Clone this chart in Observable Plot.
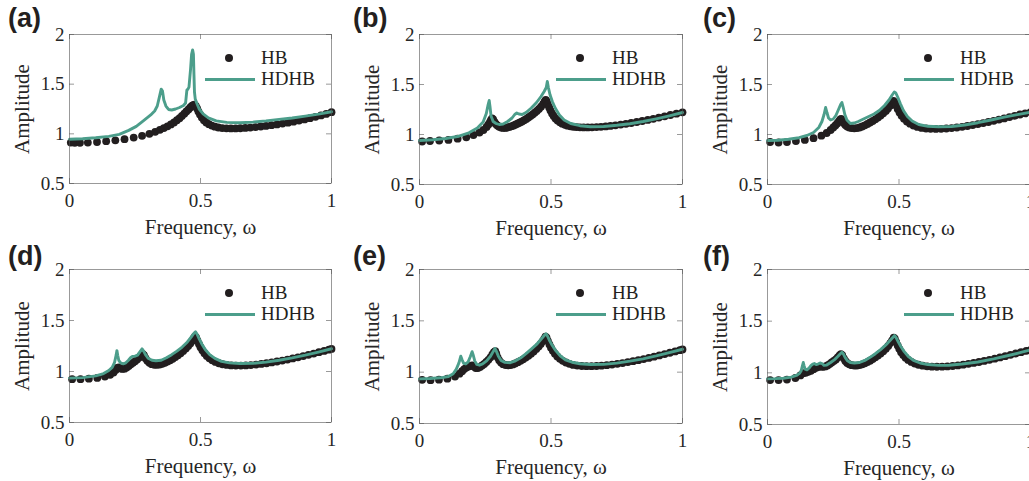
<!DOCTYPE html>
<html><head><meta charset="utf-8">
<script src="https://cdn.jsdelivr.net/npm/d3@7"></script>
<script src="https://cdn.jsdelivr.net/npm/@observablehq/plot@0.6"></script>
<style>
html,body{margin:0;padding:0;background:#fff}
#fig{position:relative;width:1029px;height:481px;overflow:hidden;background:#fff}
.panel{position:absolute}
.tag{position:absolute;font-family:"Liberation Sans",Arial,sans-serif;font-weight:bold;font-size:27px;line-height:1;color:#231f20}
.leg{position:absolute;font-size:19px;line-height:1;color:#231f20;white-space:nowrap}
.legdot{position:absolute;width:8px;height:8px;border-radius:50%;background:#221e1f}
.legline{position:absolute;height:3px;background:#4c9e8b}
</style></head><body>
<div id="fig"></div>
<script>
const xTicks = [0, 0.5, 1];
const yTicks = [0.5, 1, 1.5, 2];
const panelLabels = ["(a)", "(b)", "(c)", "(d)", "(e)", "(f)"];
const seriesNames = ["HB", "HDHB"];
const xLabel = "Frequency, ω";
const yLabel = "Amplitude";

// HB (dots) per panel: [frequency, amplitude]
const hbA = [[0.005,0.912],[0.02,0.91],[0.04,0.91],[0.07,0.912],[0.105,0.918],[0.14,0.926],[0.175,0.935],[0.21,0.946],[0.245,0.962],[0.277,0.98],[0.305,1.0],[0.327,1.02],[0.345,1.04],[0.36,1.058],[0.374,1.076],[0.387,1.095],[0.399,1.115],[0.41,1.137],[0.42,1.158],[0.429,1.18],[0.438,1.203],[0.446,1.225],[0.454,1.246],[0.461,1.265],[0.467,1.28],[0.472,1.29],[0.477,1.293],[0.482,1.28],[0.487,1.255],[0.492,1.225],[0.498,1.195],[0.505,1.165],[0.513,1.138],[0.522,1.115],[0.532,1.097],[0.543,1.083],[0.555,1.072],[0.568,1.064],[0.583,1.058],[0.599,1.055],[0.616,1.054],[0.634,1.054],[0.652,1.056],[0.671,1.059],[0.69,1.063],[0.71,1.068],[0.73,1.074],[0.75,1.08],[0.771,1.087],[0.792,1.095],[0.813,1.103],[0.834,1.112],[0.855,1.122],[0.876,1.133],[0.897,1.145],[0.918,1.158],[0.939,1.171],[0.96,1.185],[0.98,1.2],[1.0,1.218]];
const hbB = [[0.01,0.93],[0.04,0.935],[0.075,0.94],[0.11,0.946],[0.145,0.958],[0.178,0.972],[0.205,0.995],[0.228,1.02],[0.243,1.045],[0.255,1.075],[0.262,1.1],[0.268,1.125],[0.272,1.145],[0.276,1.16],[0.28,1.15],[0.285,1.125],[0.29,1.105],[0.296,1.09],[0.303,1.078],[0.31,1.07],[0.318,1.066],[0.326,1.066],[0.334,1.07],[0.342,1.076],[0.35,1.083],[0.358,1.09],[0.366,1.1],[0.374,1.11],[0.382,1.12],[0.39,1.13],[0.398,1.143],[0.406,1.156],[0.414,1.17],[0.422,1.185],[0.43,1.2],[0.438,1.218],[0.446,1.236],[0.454,1.256],[0.462,1.278],[0.47,1.305],[0.476,1.33],[0.48,1.345],[0.484,1.33],[0.488,1.3],[0.493,1.27],[0.498,1.24],[0.504,1.21],[0.51,1.185],[0.517,1.16],[0.525,1.14],[0.534,1.122],[0.543,1.108],[0.553,1.097],[0.563,1.088],[0.574,1.082],[0.585,1.077],[0.597,1.074],[0.61,1.072],[0.624,1.071],[0.64,1.071],[0.656,1.072],[0.673,1.074],[0.69,1.077],[0.708,1.081],[0.726,1.086],[0.745,1.092],[0.765,1.099],[0.785,1.107],[0.805,1.115],[0.826,1.125],[0.847,1.135],[0.868,1.146],[0.889,1.157],[0.91,1.169],[0.932,1.182],[0.954,1.195],[0.977,1.208],[1.0,1.222]];
const hbC = [[0.01,0.925],[0.042,0.92],[0.074,0.925],[0.108,0.934],[0.142,0.946],[0.175,0.963],[0.205,0.988],[0.225,1.015],[0.24,1.045],[0.25,1.07],[0.258,1.09],[0.265,1.11],[0.271,1.13],[0.276,1.148],[0.28,1.155],[0.285,1.14],[0.29,1.115],[0.296,1.095],[0.303,1.08],[0.311,1.07],[0.32,1.064],[0.33,1.062],[0.34,1.064],[0.35,1.07],[0.36,1.08],[0.37,1.092],[0.38,1.105],[0.39,1.12],[0.4,1.135],[0.41,1.152],[0.42,1.17],[0.43,1.19],[0.44,1.212],[0.45,1.236],[0.458,1.26],[0.466,1.288],[0.473,1.315],[0.479,1.335],[0.484,1.32],[0.489,1.29],[0.495,1.255],[0.502,1.22],[0.51,1.188],[0.519,1.158],[0.53,1.13],[0.542,1.108],[0.555,1.09],[0.57,1.076],[0.586,1.066],[0.603,1.06],[0.62,1.057],[0.64,1.056],[0.66,1.057],[0.68,1.06],[0.7,1.064],[0.72,1.07],[0.74,1.077],[0.76,1.085],[0.78,1.094],[0.8,1.104],[0.82,1.114],[0.84,1.125],[0.86,1.137],[0.88,1.149],[0.9,1.161],[0.92,1.174],[0.94,1.187],[0.96,1.2],[0.98,1.212],[1.0,1.224]];
const hbD = [[0.01,0.925],[0.042,0.925],[0.074,0.93],[0.106,0.937],[0.135,0.95],[0.155,0.968],[0.168,0.99],[0.176,1.015],[0.182,1.035],[0.188,1.04],[0.195,1.03],[0.202,1.025],[0.21,1.028],[0.218,1.04],[0.226,1.055],[0.234,1.07],[0.242,1.085],[0.25,1.1],[0.258,1.118],[0.266,1.138],[0.273,1.158],[0.279,1.172],[0.284,1.16],[0.29,1.13],[0.297,1.105],[0.305,1.085],[0.314,1.072],[0.324,1.066],[0.334,1.065],[0.344,1.068],[0.354,1.075],[0.364,1.085],[0.374,1.097],[0.384,1.11],[0.394,1.125],[0.404,1.142],[0.414,1.16],[0.424,1.18],[0.434,1.202],[0.444,1.226],[0.453,1.25],[0.461,1.275],[0.468,1.3],[0.474,1.325],[0.479,1.345],[0.483,1.335],[0.488,1.305],[0.494,1.27],[0.5,1.238],[0.507,1.208],[0.515,1.18],[0.524,1.153],[0.534,1.13],[0.545,1.11],[0.557,1.094],[0.57,1.081],[0.584,1.071],[0.6,1.064],[0.617,1.06],[0.635,1.058],[0.654,1.058],[0.673,1.06],[0.692,1.063],[0.712,1.068],[0.732,1.074],[0.752,1.081],[0.772,1.089],[0.792,1.098],[0.812,1.107],[0.832,1.117],[0.852,1.128],[0.872,1.139],[0.892,1.151],[0.912,1.163],[0.932,1.176],[0.952,1.189],[0.972,1.202],[0.99,1.214],[1.0,1.221]];
const hbE = [[0.01,0.925],[0.042,0.922],[0.074,0.927],[0.106,0.937],[0.135,0.958],[0.152,0.985],[0.162,1.01],[0.17,1.03],[0.178,1.045],[0.186,1.055],[0.193,1.062],[0.2,1.065],[0.207,1.055],[0.214,1.04],[0.222,1.04],[0.23,1.05],[0.238,1.065],[0.246,1.08],[0.254,1.1],[0.262,1.12],[0.27,1.145],[0.277,1.172],[0.283,1.195],[0.288,1.205],[0.292,1.18],[0.297,1.145],[0.303,1.115],[0.31,1.093],[0.318,1.078],[0.327,1.07],[0.337,1.067],[0.346,1.069],[0.355,1.075],[0.364,1.085],[0.374,1.097],[0.384,1.11],[0.394,1.125],[0.404,1.142],[0.414,1.16],[0.424,1.18],[0.434,1.202],[0.444,1.226],[0.453,1.25],[0.461,1.275],[0.468,1.3],[0.474,1.325],[0.479,1.345],[0.483,1.335],[0.488,1.305],[0.494,1.27],[0.5,1.238],[0.507,1.208],[0.515,1.18],[0.524,1.153],[0.534,1.13],[0.545,1.11],[0.557,1.094],[0.57,1.081],[0.584,1.071],[0.6,1.064],[0.617,1.06],[0.635,1.058],[0.654,1.058],[0.673,1.06],[0.692,1.063],[0.712,1.068],[0.732,1.074],[0.752,1.081],[0.772,1.089],[0.792,1.098],[0.812,1.107],[0.832,1.117],[0.852,1.128],[0.872,1.139],[0.892,1.151],[0.912,1.163],[0.932,1.176],[0.952,1.189],[0.972,1.202],[0.99,1.214],[1.0,1.221]];
const hbF = [[0.01,0.93],[0.042,0.93],[0.074,0.935],[0.106,0.95],[0.125,0.975],[0.135,0.995],[0.145,1.0],[0.155,1.01],[0.165,1.02],[0.175,1.035],[0.185,1.048],[0.195,1.058],[0.203,1.06],[0.212,1.058],[0.22,1.062],[0.228,1.072],[0.236,1.085],[0.244,1.1],[0.252,1.115],[0.26,1.13],[0.267,1.15],[0.274,1.168],[0.279,1.18],[0.284,1.17],[0.29,1.14],[0.296,1.115],[0.303,1.095],[0.311,1.082],[0.32,1.074],[0.33,1.07],[0.34,1.07],[0.35,1.075],[0.36,1.082],[0.37,1.092],[0.38,1.104],[0.39,1.118],[0.4,1.133],[0.41,1.15],[0.42,1.168],[0.43,1.188],[0.44,1.21],[0.45,1.234],[0.459,1.26],[0.467,1.288],[0.474,1.315],[0.48,1.34],[0.484,1.33],[0.489,1.3],[0.495,1.265],[0.501,1.232],[0.508,1.2],[0.516,1.172],[0.525,1.147],[0.535,1.125],[0.547,1.106],[0.56,1.09],[0.574,1.078],[0.59,1.069],[0.607,1.063],[0.625,1.06],[0.644,1.059],[0.664,1.06],[0.684,1.062],[0.704,1.066],[0.724,1.072],[0.744,1.079],[0.764,1.087],[0.784,1.096],[0.804,1.105],[0.824,1.115],[0.844,1.126],[0.864,1.137],[0.884,1.149],[0.904,1.161],[0.924,1.174],[0.944,1.187],[0.964,1.2],[0.984,1.212],[1.0,1.222]];

// HDHB (line) per panel: [frequency, amplitude]
const hdhbA = [[0,0.945],[0.05,0.95],[0.1,0.96],[0.15,0.975],[0.19,0.995],[0.226,1.035],[0.255,1.075],[0.284,1.135],[0.31,1.19],[0.325,1.23],[0.335,1.28],[0.343,1.37],[0.35,1.45],[0.355,1.43],[0.36,1.34],[0.368,1.28],[0.378,1.245],[0.39,1.24],[0.405,1.25],[0.42,1.265],[0.435,1.285],[0.443,1.31],[0.448,1.44],[0.452,1.45],[0.456,1.47],[0.462,1.65],[0.466,1.8],[0.47,1.845],[0.473,1.8],[0.475,1.6],[0.477,1.42],[0.48,1.35],[0.487,1.3],[0.495,1.25],[0.51,1.2],[0.53,1.16],[0.56,1.13],[0.6,1.115],[0.65,1.112],[0.7,1.118],[0.75,1.13],[0.8,1.145],[0.85,1.16],[0.9,1.178],[0.95,1.198],[1.0,1.222]];
const hdhbB = [[0,0.94],[0.05,0.947],[0.1,0.96],[0.15,0.983],[0.188,1.017],[0.22,1.065],[0.242,1.125],[0.254,1.21],[0.261,1.3],[0.265,1.34],[0.268,1.28],[0.272,1.185],[0.28,1.13],[0.29,1.112],[0.303,1.1],[0.318,1.105],[0.335,1.13],[0.352,1.165],[0.362,1.2],[0.37,1.215],[0.378,1.205],[0.39,1.2],[0.405,1.22],[0.425,1.265],[0.445,1.32],[0.462,1.38],[0.474,1.43],[0.482,1.47],[0.486,1.53],[0.49,1.47],[0.496,1.4],[0.505,1.33],[0.517,1.26],[0.532,1.195],[0.55,1.145],[0.575,1.11],[0.61,1.088],[0.65,1.078],[0.7,1.08],[0.75,1.092],[0.8,1.108],[0.85,1.13],[0.9,1.157],[0.95,1.187],[1.0,1.22]];
const hdhbC = [[0,0.94],[0.04,0.943],[0.08,0.952],[0.12,0.968],[0.15,0.99],[0.175,1.02],[0.195,1.07],[0.207,1.13],[0.215,1.2],[0.221,1.27],[0.226,1.22],[0.232,1.165],[0.24,1.145],[0.25,1.155],[0.26,1.19],[0.27,1.25],[0.278,1.3],[0.283,1.32],[0.288,1.27],[0.294,1.2],[0.302,1.145],[0.315,1.11],[0.33,1.115],[0.345,1.13],[0.365,1.155],[0.385,1.18],[0.405,1.205],[0.425,1.24],[0.445,1.29],[0.462,1.345],[0.474,1.395],[0.482,1.425],[0.488,1.415],[0.495,1.375],[0.505,1.31],[0.517,1.24],[0.532,1.18],[0.55,1.135],[0.575,1.1],[0.61,1.082],[0.65,1.077],[0.7,1.08],[0.75,1.095],[0.8,1.118],[0.85,1.145],[0.9,1.173],[0.95,1.198],[1.0,1.222]];
const hdhbD = [[0,0.935],[0.05,0.94],[0.1,0.957],[0.13,0.98],[0.15,1.01],[0.163,1.04],[0.172,1.09],[0.178,1.16],[0.181,1.205],[0.184,1.16],[0.188,1.11],[0.195,1.085],[0.205,1.075],[0.215,1.085],[0.225,1.11],[0.233,1.135],[0.24,1.148],[0.25,1.15],[0.26,1.16],[0.268,1.19],[0.277,1.222],[0.283,1.2],[0.29,1.165],[0.3,1.13],[0.315,1.11],[0.33,1.105],[0.35,1.11],[0.37,1.135],[0.39,1.165],[0.41,1.2],[0.43,1.24],[0.45,1.29],[0.465,1.34],[0.475,1.375],[0.481,1.39],[0.487,1.365],[0.495,1.32],[0.505,1.27],[0.518,1.215],[0.535,1.165],[0.555,1.128],[0.58,1.1],[0.61,1.085],[0.65,1.078],[0.7,1.08],[0.75,1.092],[0.8,1.11],[0.85,1.133],[0.9,1.16],[0.95,1.19],[1.0,1.223]];
const hdhbE = [[0,0.935],[0.04,0.938],[0.08,0.945],[0.11,0.958],[0.128,0.985],[0.14,1.03],[0.15,1.09],[0.157,1.155],[0.162,1.12],[0.168,1.085],[0.176,1.08],[0.185,1.1],[0.193,1.15],[0.2,1.2],[0.205,1.16],[0.21,1.11],[0.218,1.075],[0.228,1.068],[0.24,1.08],[0.255,1.11],[0.27,1.155],[0.28,1.2],[0.287,1.23],[0.292,1.205],[0.3,1.155],[0.31,1.115],[0.325,1.095],[0.345,1.092],[0.365,1.11],[0.385,1.14],[0.405,1.18],[0.425,1.225],[0.445,1.27],[0.462,1.32],[0.475,1.36],[0.481,1.375],[0.487,1.35],[0.495,1.305],[0.505,1.26],[0.518,1.21],[0.535,1.16],[0.555,1.12],[0.58,1.097],[0.61,1.082],[0.65,1.074],[0.7,1.076],[0.75,1.088],[0.8,1.107],[0.85,1.13],[0.9,1.158],[0.95,1.19],[1.0,1.223]];
const hdhbF = [[0,0.942],[0.03,0.944],[0.06,0.948],[0.09,0.958],[0.11,0.975],[0.122,0.995],[0.128,1.02],[0.132,1.06],[0.136,1.1],[0.139,1.07],[0.143,1.035],[0.15,1.03],[0.158,1.045],[0.165,1.07],[0.172,1.085],[0.178,1.09],[0.185,1.08],[0.192,1.085],[0.2,1.095],[0.207,1.09],[0.215,1.072],[0.225,1.075],[0.24,1.1],[0.255,1.128],[0.268,1.16],[0.277,1.185],[0.283,1.2],[0.288,1.185],[0.295,1.15],[0.303,1.12],[0.315,1.1],[0.33,1.095],[0.35,1.1],[0.37,1.12],[0.39,1.15],[0.41,1.185],[0.43,1.225],[0.45,1.27],[0.465,1.31],[0.477,1.345],[0.483,1.36],[0.489,1.34],[0.497,1.3],[0.507,1.255],[0.52,1.205],[0.535,1.16],[0.555,1.12],[0.58,1.095],[0.61,1.08],[0.65,1.072],[0.69,1.074],[0.74,1.085],[0.8,1.105],[0.86,1.135],[0.92,1.17],[0.96,1.195],[1.0,1.222]];

const hbSeries = [hbA, hbB, hbC, hbD, hbE, hbF];
const hdhbSeries = [hdhbA, hdhbB, hdhbC, hdhbD, hdhbE, hdhbF];

const TEAL = "#4c9e8b";
const DARK = "#221e1f";
const INK = "#262626";
const SERIF = "'Liberation Serif','Times New Roman','DejaVu Serif',serif";

// panel boxes (svg placement and margins)
const layout = [
  {left: 0,   top: 0,   width: 343, height: 240, ml: 69, mr: 12, mt: 34, mb: 57},
  {left: 343, top: 0,   width: 343, height: 240, ml: 76, mr: 4,  mt: 34, mb: 56},
  {left: 686, top: 0,   width: 345, height: 240, ml: 81, mr: 1,  mt: 34, mb: 56},
  {left: 0,   top: 240, width: 343, height: 241, ml: 69, mr: 12, mt: 29, mb: 59},
  {left: 343, top: 240, width: 343, height: 241, ml: 76, mr: 4,  mt: 29, mb: 58},
  {left: 686, top: 240, width: 345, height: 241, ml: 81, mr: 1,  mt: 29, mb: 57}
];

const fig = document.getElementById("fig");
const fmt = d => String(d);

layout.forEach((L, i) => {
  const innerW = L.width - L.ml - L.mr;
  const innerH = L.height - L.mt - L.mb;
  const svg = Plot.plot({
    width: L.width, height: L.height,
    marginLeft: L.ml, marginRight: L.mr, marginTop: L.mt, marginBottom: L.mb,
    x: {domain: [0, 1]},
    y: {domain: [0.5, 2]},
    style: {fontFamily: SERIF, fontSize: "19px", color: INK, background: "transparent", overflow: "visible"},
    marks: [
      Plot.dot(hbSeries[i], {x: d => d[0], y: d => d[1], r: 3.9, fill: DARK, stroke: "none"}),
      Plot.line(hdhbSeries[i], {x: d => d[0], y: d => d[1], stroke: TEAL, strokeWidth: 2.9, strokeLinejoin: "round"}),
      Plot.frame({stroke: "#555", strokeWidth: 0.6}),
      Plot.tickX(xTicks, {x: d => d, insetTop: innerH - 5, stroke: "#555", strokeWidth: 0.6}),
      Plot.tickX(xTicks, {x: d => d, insetBottom: innerH - 5, stroke: "#555", strokeWidth: 0.6}),
      Plot.tickY(yTicks, {y: d => d, insetRight: innerW - 5, stroke: "#555", strokeWidth: 0.6}),
      Plot.tickY(yTicks, {y: d => d, insetLeft: innerW - 5, stroke: "#555", strokeWidth: 0.6}),
      Plot.axisX(xTicks, {tickSize: 0, tickPadding: 10, label: null, tickFormat: fmt, fill: INK}),
      Plot.axisY(yTicks, {tickSize: 0, tickPadding: 5, label: null, tickFormat: fmt, fill: INK}),
      Plot.text([xLabel], {frameAnchor: "bottom", textAnchor: "middle", lineAnchor: "middle", dy: 44, fontSize: 21, fill: INK}),
      Plot.text([yLabel], {frameAnchor: "left", textAnchor: "middle", lineAnchor: "middle", rotate: -90, dx: -47, fontSize: 21, fill: INK})
    ]
  });
  svg.classList.add("panel");
  svg.style.left = L.left + "px";
  svg.style.top = L.top + "px";
  fig.appendChild(svg);

  // panel tag
  const tag = document.createElement("div");
  tag.className = "tag";
  tag.textContent = panelLabels[i];
  tag.style.left = (L.left + (i % 3 === 0 ? 8 : i % 3 === 1 ? 10 : 17)) + "px";
  tag.style.top = (L.top + (i < 3 ? 5 : 3)) + "px";
  fig.appendChild(tag);

  // legend
  const fr = L.left + L.width - L.mr;
  const ft = L.top + L.mt;
  const dot = document.createElement("div");
  dot.className = "legdot";
  dot.style.left = (fr - 102 - 4) + "px";
  dot.style.top = (ft + 24 - 4) + "px";
  fig.appendChild(dot);
  const ln = document.createElement("div");
  ln.className = "legline";
  ln.style.left = (fr - 126) + "px";
  ln.style.width = "50px";
  ln.style.top = (ft + 45 - 1.5) + "px";
  fig.appendChild(ln);
  seriesNames.forEach((name, k) => {
    const t = document.createElement("div");
    t.className = "leg";
    t.style.fontFamily = SERIF;
    t.textContent = name;
    t.style.left = (fr - 70) + "px";
    t.style.top = (ft + (k === 0 ? 24 : 45) - 10) + "px";
    fig.appendChild(t);
  });
});
</script>
</body></html>
